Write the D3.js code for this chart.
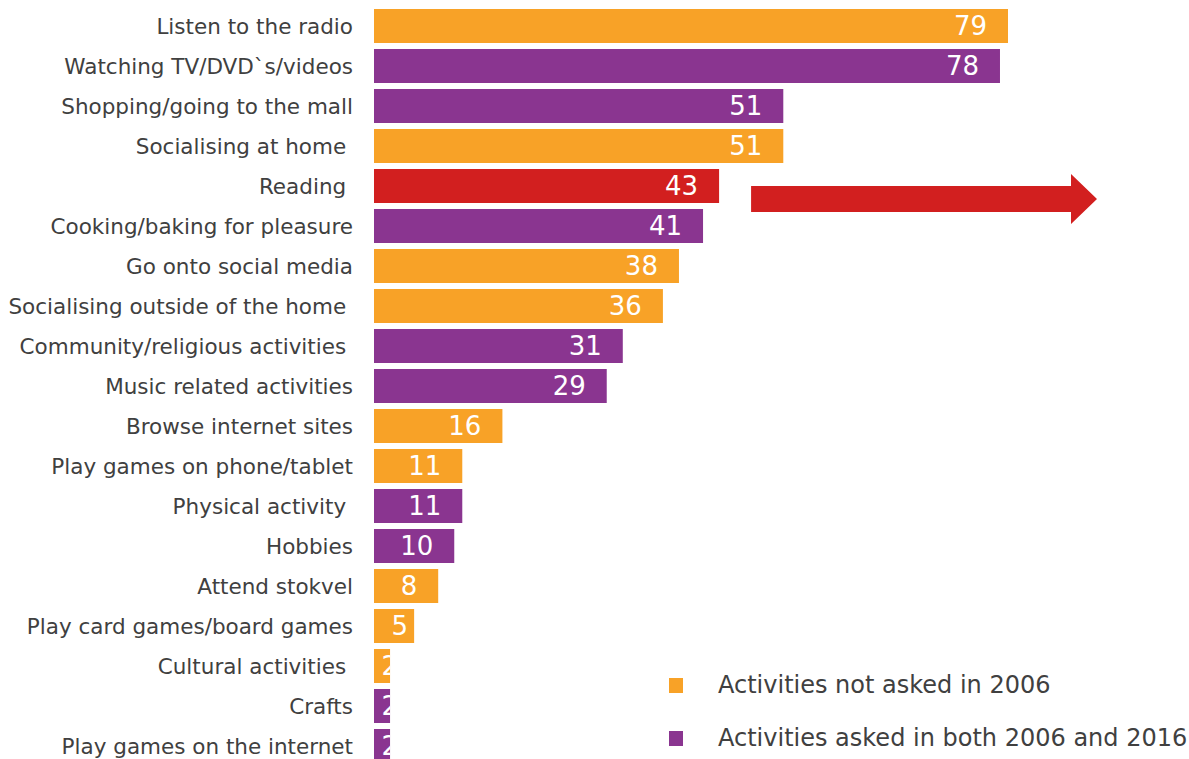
<!DOCTYPE html>
<html>
<head>
<meta charset="utf-8">
<script src="https://cdn.jsdelivr.net/npm/d3@7"></script>
<style>
  html, body { margin: 0; padding: 0; background: #ffffff; }
  svg { display: block; font-family: "DejaVu Sans", Verdana, sans-serif; }
  .cat { white-space: pre; }
</style>
</head>
<body>
<svg id="chart" width="1189" height="759"></svg>
<script>
// Leisure activities (%), ordered from most to least common
const categories = [
  "Listen to the radio",
  "Watching TV/DVD`s/videos",
  "Shopping/going to the mall",
  "Socialising at home ",
  "Reading ",
  "Cooking/baking for pleasure",
  "Go onto social media",
  "Socialising outside of the home ",
  "Community/religious activities ",
  "Music related activities",
  "Browse internet sites",
  "Play games on phone/tablet",
  "Physical activity ",
  "Hobbies",
  "Attend stokvel",
  "Play card games/board games",
  "Cultural activities ",
  "Crafts",
  "Play games on the internet"
];
const values = [79, 78, 51, 51, 43, 41, 38, 36, 31, 29, 16, 11, 11, 10, 8, 5, 2, 2, 2];
// "new" = not asked in 2006, "both" = asked in 2006 and 2016, "focus" = highlighted
const groups = ["new", "both", "both", "new", "focus", "both", "new", "new", "both", "both",
                "new", "new", "both", "both", "new", "new", "new", "both", "both"];
const legendLabels = ["Activities not asked in 2006", "Activities asked in both 2006 and 2016"];

const colors = { new: "#F8A227", both: "#8A3590", focus: "#D21F1F" };

const svg = d3.select("#chart");

const x = d3.scaleLinear().domain([0, 79]).range([374, 1008]);
const y = d3.scaleBand()
  .domain(categories)
  .range([6, 766])
  .paddingInner(0.15)
  .paddingOuter(0.075);

const rows = categories.map((c, i) => ({ cat: c, value: values[i], group: groups[i], i }));

// clip paths so value labels stay inside their bars
const defs = svg.append("defs");
rows.forEach(d => {
  defs.append("clipPath").attr("id", "clip" + d.i)
    .append("rect")
    .attr("x", x(0)).attr("y", y(d.cat))
    .attr("width", x(d.value) - x(0)).attr("height", y.bandwidth());
});

// bars
svg.append("g").selectAll("rect")
  .data(rows).join("rect")
  .attr("x", x(0))
  .attr("y", d => y(d.cat))
  .attr("width", d => x(d.value) - x(0))
  .attr("height", y.bandwidth())
  .attr("fill", d => colors[d.group]);

// category labels
svg.append("g").selectAll("text")
  .data(rows).join("text")
  .attr("class", "cat")
  .attr("x", 353)
  .attr("y", d => y(d.cat) + y.bandwidth() / 2)
  .attr("dy", "0.37em")
  .attr("text-anchor", "end")
  .attr("font-size", 21.5)
  .attr("fill", "#404040")
  .text(d => d.cat);

// value labels, inside the bar end
svg.append("g").selectAll("text")
  .data(rows).join("text")
  .attr("clip-path", d => "url(#clip" + d.i + ")")
  .attr("x", d => Math.max(x(d.value) - 21, Math.min(x(0) + 34, x(d.value) + 8)))
  .attr("y", d => y(d.cat) + y.bandwidth() / 2)
  .attr("dy", "0.36em")
  .attr("text-anchor", "end")
  .attr("font-size", 26)
  .attr("fill", "#ffffff")
  .text(d => d.value);

// arrow pointing out from the highlighted row
const focus = rows.find(d => d.group === "focus");
const ay = y(focus.cat) + y.bandwidth() / 2 + 13;
const ax0 = x(focus.value) + 32, ax1 = 1097, headX = 1071;
svg.append("path")
  .attr("d", `M${ax0},${ay - 13} L${headX},${ay - 13} L${headX},${ay - 25} L${ax1},${ay}
              L${headX},${ay + 25} L${headX},${ay + 13} L${ax0},${ay + 13} Z`)
  .attr("fill", colors.focus);

// legend
const legend = svg.append("g");
const legendKeys = ["new", "both"];
legendKeys.forEach((k, i) => {
  const cy = 685.5 + i * 53;
  legend.append("rect")
    .attr("x", 669).attr("y", cy - 7.5)
    .attr("width", 14).attr("height", 15)
    .attr("fill", colors[k]);
  legend.append("text")
    .attr("x", 718).attr("y", cy)
    .attr("dy", "0.33em")
    .attr("font-size", 24)
    .attr("fill", "#404040")
    .text(legendLabels[i]);
});
</script>
</body>
</html>
